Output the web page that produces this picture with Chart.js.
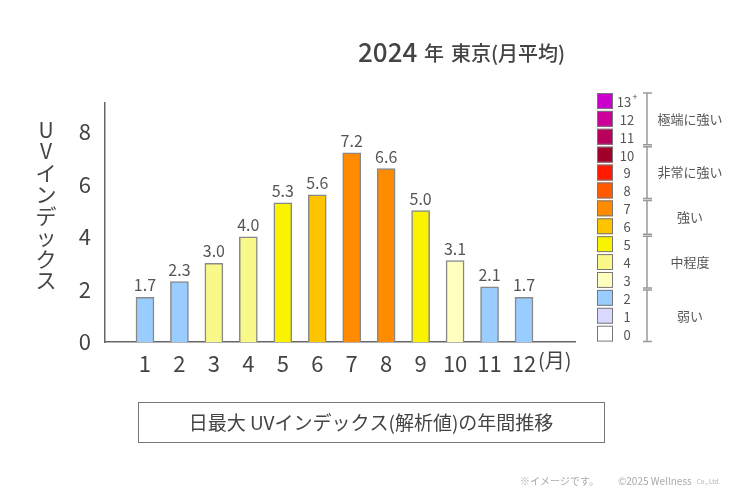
<!DOCTYPE html>
<html><head><meta charset="utf-8">
<script src="https://cdn.jsdelivr.net/npm/chart.js@4"></script>
<style>body{margin:0;background:#fff}canvas{display:block}</style>
</head><body><canvas id="c" width="750" height="500"></canvas>
<script>
const months = [1,2,3,4,5,6,7,8,9,10,11,12];
const uvValues = [1.7,2.3,3.0,4.0,5.3,5.6,7.2,6.6,5.0,3.1,2.1,1.7];
const barColors = ['#99CCFF','#99CCFF','#F9F98A','#F9F98A','#F9F200','#FFC400','#FF8C00','#FF8C00','#F9F200','#FFFFC0','#99CCFF','#99CCFF'];
const yTicks = [0,2,4,6,8];
const legendLevels = ['0','1','2','3','4','5','6','7','8','9','10','11','12','13'];
const legendColors = ['#FFFFFF','#D9D9FF','#99CCFF','#FFFFC0','#F9F98A','#F9F200','#FFC400','#FF8C00','#FF5A00','#FF1A00','#A0002A','#B8005C','#CC0099','#CC00CC'];
const legendGroups = [{from:0,to:2,label:'弱い'},{from:3,to:5,label:'中程度'},{from:6,to:7,label:'強い'},{from:8,to:10,label:'非常に強い'},{from:11,to:13,label:'極端に強い'}];
const FONT = '"Noto Sans CJK JP", "Noto Sans", sans-serif';

const deco = {
  id:'deco',
  afterDatasetsDraw(chart){
    const ctx = chart.ctx, xs = chart.scales.x, ys = chart.scales.y;
    ctx.save();
    ctx.fillStyle = '#555'; ctx.font = '16px '+FONT; ctx.textAlign='center'; ctx.textBaseline='bottom';
    uvValues.forEach((v,i)=>ctx.fillText(v.toFixed(1), xs.getPixelForValue(months[i]), ys.getPixelForValue(v)-4));
    ctx.fillStyle='#444'; ctx.textBaseline='middle'; ctx.textAlign='left';
    ctx.font='500 26px '+FONT; ctx.fillText('2024', 358, 52);
    ctx.font='500 20px '+FONT; ctx.fillText('年', 424, 53);
    ctx.fillText('東京(月平均)', 451, 53);
    ctx.fillStyle='#444'; ctx.font='21px '+FONT; ctx.textAlign='center';
    const yt='UVインデックス'; let y=130;
    for(const ch of yt){ctx.fillText(ch, 46, y); y+=21.5;}
    ctx.font='20px '+FONT; ctx.fillStyle='#444'; ctx.textAlign='left';
    ctx.fillText('(月)', 538, 360);
    const top=92, rh=17.9;
    ctx.font='13px '+FONT; ctx.textAlign='center';
    legendLevels.forEach((lv,i)=>{
      const yy = top + (13-i)*rh;
      ctx.fillStyle=legendColors[i]; ctx.fillRect(597,yy+1,16,rh-2);
      ctx.strokeStyle='#777'; ctx.lineWidth=1; ctx.strokeRect(597.5,yy+1.5,15,rh-3);
      ctx.fillStyle='#555';
      if(lv==='13'){ctx.fillText('13',624,yy+rh/2+1); ctx.font='9px '+FONT; ctx.fillText('+',635,yy+5); ctx.font='13px '+FONT;}
      else ctx.fillText(lv,627,yy+rh/2+1);
    });
    ctx.strokeStyle='#999'; ctx.lineWidth=1.5;
    legendGroups.forEach(g=>{
      const y1 = top+(13-g.to)*rh+1, y2 = top+(14-g.from)*rh-1;
      ctx.beginPath(); ctx.moveTo(647,y1); ctx.lineTo(647,y2);
      ctx.moveTo(643,y1); ctx.lineTo(652,y1); ctx.moveTo(643,y2); ctx.lineTo(652,y2); ctx.stroke();
      ctx.fillStyle='#555'; ctx.fillText(g.label, 690, (y1+y2)/2);
    });
    ctx.strokeStyle='#777'; ctx.lineWidth=1; ctx.strokeRect(138.5,402.5,466,40);
    ctx.fillStyle='#444'; ctx.font='19px '+FONT; ctx.textAlign='center';
    ctx.fillText('日最大 UVインデックス(解析値)の年間推移', 371, 423);
    ctx.fillStyle='#aaa'; ctx.font='10px '+FONT; ctx.textAlign='left';
    ctx.fillText('※イメージです。', 520, 481);
    ctx.fillText('©2025 Wellness', 618, 481);
    ctx.font='6px '+FONT; ctx.fillText('Co., Ltd.', 697, 482);
    ctx.restore();
  }
};

new Chart(document.getElementById('c'), {
  type:'bar',
  data:{datasets:[{data:months.map((m,i)=>({x:m,y:uvValues[i]})), backgroundColor:barColors, borderColor:'#888', borderWidth:1.5, barThickness:18, borderSkipped:'bottom'}]},
  options:{
    responsive:false, animation:false, devicePixelRatio:1,
    layout:{padding:{left:0,top:103,right:175,bottom:118}},
    plugins:{legend:{display:false},tooltip:{enabled:false}},
    scales:{
      x:{type:'linear',offset:false,bounds:'data',min:-0.16,max:13.48,grid:{display:false,drawTicks:false,offset:false},border:{color:'#666',width:1.5},
        afterBuildTicks(s){s.ticks=months.map(v=>({value:v}));},
        afterFit(s){s.height=40;},
        ticks:{autoSkip:false,maxRotation:0,padding:8,color:'#444',font:{size:22,family:FONT}}},
      y:{min:0,max:9.1,grid:{display:false,drawTicks:false},border:{color:'#666',width:1.5},
        afterBuildTicks(s){s.ticks=yTicks.map(v=>({value:v}));},
        afterFit(s){s.width=105;},
        ticks:{padding:14,color:'#444',font:{size:22,family:FONT}}}
    }
  },
  plugins:[deco]
});
</script></body></html>
